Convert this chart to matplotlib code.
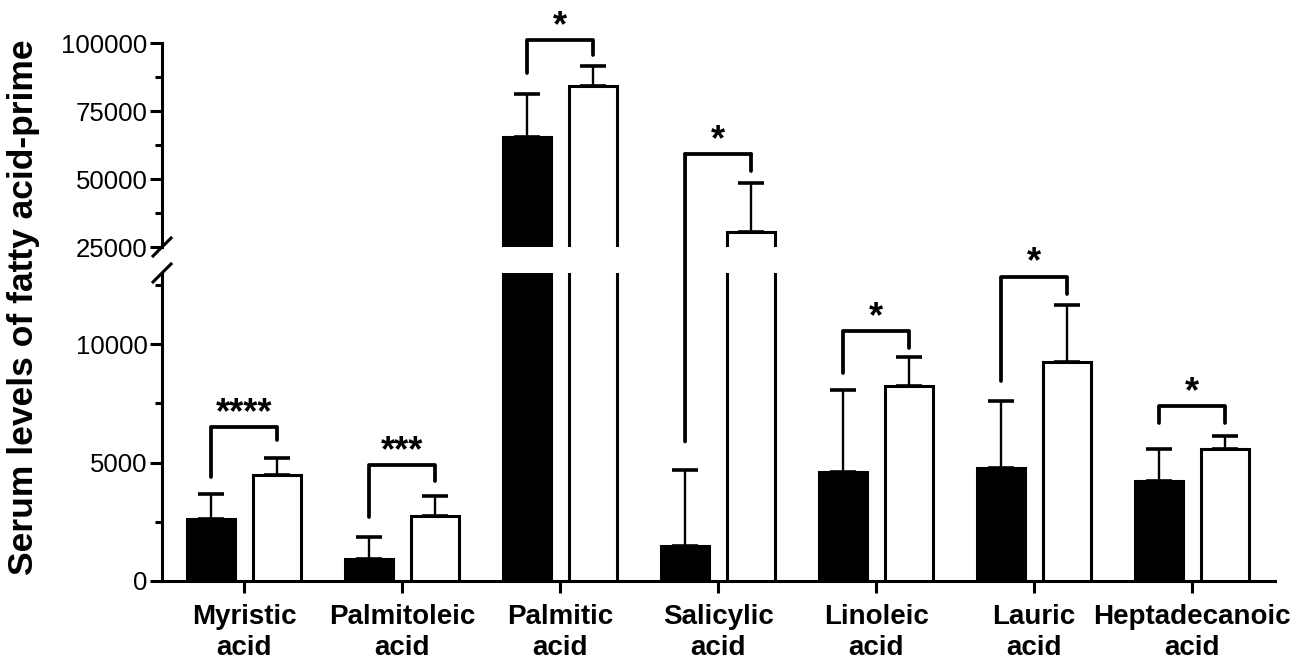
import numpy as np
import matplotlib
matplotlib.use('Agg')
import matplotlib.pyplot as plt
from matplotlib.lines import Line2D
from matplotlib.patches import ConnectionPatch
from matplotlib.ticker import FixedLocator

plt.rcParams['font.family'] = ['Liberation Sans', 'DejaVu Sans']

# values
categories = ['Myristic\nacid', 'Palmitoleic\nacid', 'Palmitic\nacid', 'Salicylic\nacid',
              'Linoleic\nacid', 'Lauric\nacid', 'Heptadecanoic\nacid']
black_mean = [2630, 930, 65440, 1480, 4620, 4790, 4240]
black_err = [1060, 930, 15800, 3220, 3430, 2790, 1350]
white_mean = [4490, 2750, 84180, 30500, 8220, 9240, 5590]
white_err = [680, 850, 7360, 18030, 1230, 2410, 550]

# significance brackets: left leg end, bar height, right leg end
bracket_y = [6480, 4900, 101100, 59190, 10550, 12840, 7370]
left_end = [4400, 2700, 89000, 5890, 8770, 8430, 6650]
right_end = [5930, 4200, 95580, 52940, 9830, 12120, 6650]
stars = ['****', '***', '*', '*', '*', '*', '*']

lo_lim = (0, 13000)
hi_lim = (25000, 100000)

W, H = 1311, 664
fig = plt.figure(figsize=(W / 100, H / 100), dpi=100)
left, width = 0.1236, 0.849
ax_lo = fig.add_axes([left, 0.125, width, 0.4639])
ax_hi = fig.add_axes([left, 0.628, width, 0.3072])

x = np.arange(len(categories))
off = 0.209
bw = 0.30
lw = 2.2
blw = 2.7  # bracket line width

for ax in (ax_lo, ax_hi):
    ax.bar(x - off, black_mean, bw, color='black', edgecolor='black', linewidth=lw, zorder=3)
    ax.bar(x + off, white_mean, bw, color='white', edgecolor='black', linewidth=lw, zorder=3)
    ax.errorbar(x - off, black_mean, yerr=[np.zeros(len(x)), black_err], fmt='none',
                ecolor='black', elinewidth=1.7, capsize=9.5, capthick=2.6, zorder=2)
    ax.errorbar(x + off, white_mean, yerr=[np.zeros(len(x)), white_err], fmt='none',
                ecolor='black', elinewidth=1.7, capsize=9.5, capthick=2.6, zorder=2)
    ax.set_xlim(-0.519, 6.525)
    for s in ('top', 'right'):
        ax.spines[s].set_visible(False)
    ax.spines['left'].set_linewidth(lw)
    ax.spines['bottom'].set_linewidth(lw)
    ax.tick_params(axis='y', which='major', length=8.5, width=lw, labelsize=18.5, pad=2)
    ax.tick_params(axis='y', which='minor', length=5, width=lw)

ax_lo.set_ylim(*lo_lim)
ax_hi.set_ylim(*hi_lim)
ax_lo.yaxis.set_major_locator(FixedLocator([0, 5000, 10000]))
ax_lo.yaxis.set_minor_locator(FixedLocator([2500, 7500, 12500]))
ax_hi.yaxis.set_major_locator(FixedLocator([25000, 50000, 75000, 100000]))
ax_hi.yaxis.set_minor_locator(FixedLocator([37500, 62500, 87500]))
ax_hi.spines['bottom'].set_visible(False)
ax_hi.tick_params(axis='x', bottom=False, labelbottom=False)

ax_lo.set_xticks(x)
ax_lo.set_xticklabels(categories, fontsize=20, fontweight='bold', linespacing=1.25)
ax_lo.tick_params(axis='x', length=8.5, width=lw, pad=8)


def pick(v):
    return ax_lo if v <= lo_lim[1] else ax_hi


# brackets and stars
for i in range(len(x)):
    xl, xr = x[i] - off, x[i] + off
    pts = [(xl, left_end[i]), (xl, bracket_y[i]), (xr, bracket_y[i]), (xr, right_end[i])]
    axes_used = [pick(p[1]) for p in pts]
    if all(a is axes_used[0] for a in axes_used):
        axes_used[0].plot([p[0] for p in pts], [p[1] for p in pts], color='black', lw=blw,
                          clip_on=False, solid_capstyle='round', zorder=4)
    else:
        for (p1, a1), (p2, a2) in zip(zip(pts[:-1], axes_used[:-1]), zip(pts[1:], axes_used[1:])):
            if a1 is a2:
                a1.plot([p1[0], p2[0]], [p1[1], p2[1]], color='black', lw=blw,
                        clip_on=False, solid_capstyle='round', zorder=4)
            else:
                con = ConnectionPatch(xyA=p1, coordsA=a1.transData, xyB=p2, coordsB=a2.transData,
                                      color='black', lw=blw, capstyle='round')
                fig.add_artist(con)
    pick(bracket_y[i]).annotate(stars[i], xy=(x[i], bracket_y[i]), xytext=(0, 3),
                                textcoords='offset points', ha='center', va='baseline',
                                fontsize=26, fontweight='bold', annotation_clip=False)

# axis break marks
dx, dy = 9 / W, 9 / H
for yb in (0.125 + 0.4639, 0.628):
    fig.add_artist(Line2D([left - dx, left + dx], [yb - dy, yb + dy], color='black', lw=lw,
                          transform=fig.transFigure))

fig.text(0.018, 0.5377, 'Serum levels of fatty acid-prime', rotation=90, ha='center',
         va='center', fontsize=25.5, fontweight='bold')

fig.savefig('out.png', dpi=100)
